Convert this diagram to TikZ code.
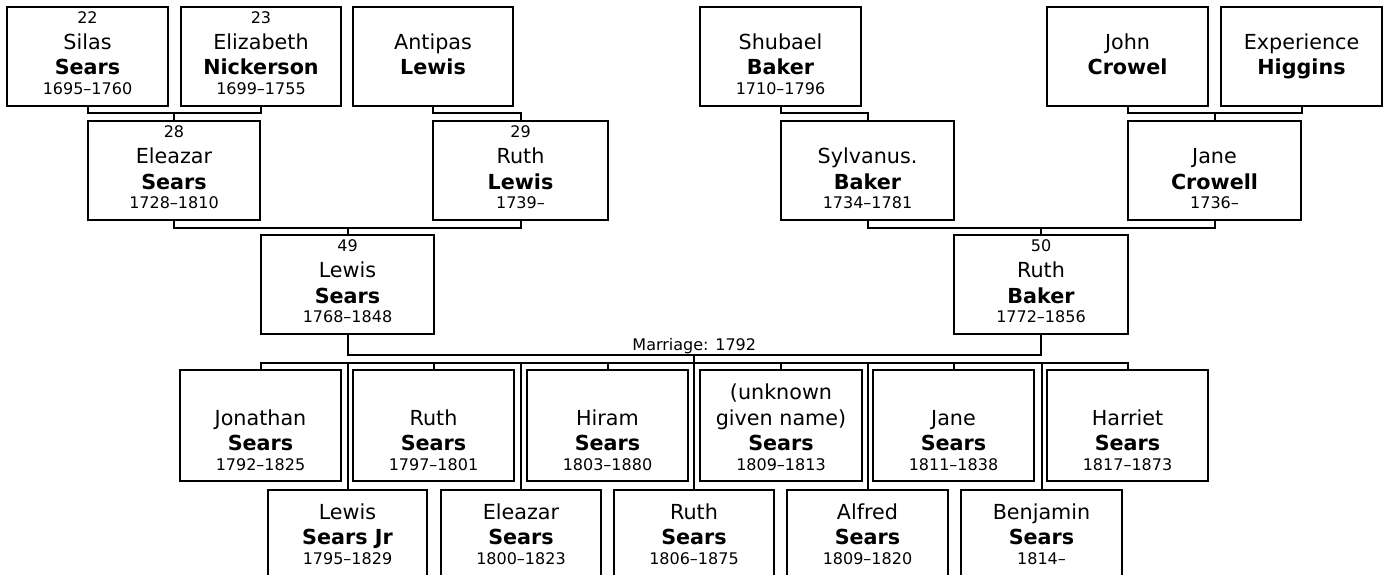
\documentclass[tikz,border=0pt]{standalone}
\usepackage{fontspec}
\setmainfont{DejaVu Sans}
\usetikzlibrary{calc}
\newcommand\smallf{\fontsize{16}{18}\selectfont}
\newcommand\namef{\fontsize{20.7}{24}\selectfont}
\tikzset{
  pbox/.style={draw, line width=2pt, inner sep=0pt, outer sep=0pt, fill=white},
  conn/.style={line width=2pt},
  numtxt/.style={anchor=base, inner sep=0pt, font=\smallf},
  giventxt/.style={anchor=base, inner sep=0pt, font=\namef},
  surtxt/.style={anchor=base, inner sep=0pt, font=\namef\bfseries},
  datetxt/.style={anchor=base, inner sep=0pt, font=\smallf},
}
\newcommand\goff{42.3}
% name, x1, x2, y1, y2, number, given, surname, dates
\newcommand\person[9]{%
  \node[pbox, minimum width={(#3-#2)*1pt}, minimum height={(#5-#4)*1pt}] (#1) at ({(#2+#3)/2},{(#4+#5)/2}) {};
  \node[numtxt]   (#1-n) at ($(#1.north)+(0,{\goff-26})$) {#6};
  \node[giventxt] (#1-g) at ($(#1.north)+(0,{\goff})$) {#7};
  \node[surtxt]   (#1-s) at ($(#1.north)+(0,{\goff+25.7})$) {#8};
  \node[datetxt]  (#1-d) at ($(#1.north)+(0,{\goff+45.5})$) {#9};
}
\begin{document}
\begin{tikzpicture}[x=1pt,y=-1pt]
\useasboundingbox (0,0) rectangle (1386,575);
\clip (0,0) rectangle (1386,575);
% generation 1
\renewcommand\goff{42.3}
\person{silas}{7}{168}{7}{106}{22}{Silas}{Sears}{1695–1760}
\person{eliz}{181}{341}{7}{106}{23}{Elizabeth}{Nickerson}{1699–1755}
\person{antipas}{353}{513}{7}{106}{}{Antipas}{Lewis}{}
\person{shubael}{700}{861}{7}{106}{}{Shubael}{Baker}{1710–1796}
\person{john}{1047}{1208}{7}{106}{}{John}{Crowel}{}
\person{experience}{1221}{1382}{7}{106}{}{Experience}{Higgins}{}
% generation 2
\person{eleazar}{88}{260}{121}{220}{28}{Eleazar}{Sears}{1728–1810}
\person{ruthl}{433}{608}{121}{220}{29}{Ruth}{Lewis}{1739–}
\person{sylv}{781}{954}{121}{220}{}{Sylvanus.}{Baker}{1734–1781}
\person{janec}{1128}{1301}{121}{220}{}{Jane}{Crowell}{1736–}
% generation 3
\person{lewis}{261}{434}{235}{334}{49}{Lewis}{Sears}{1768–1848}
\person{ruthb}{954}{1128}{235}{334}{50}{Ruth}{Baker}{1772–1856}
% children row 1
\renewcommand\goff{55}
\person{jonathan}{180}{341}{370}{481}{}{Jonathan}{Sears}{1792–1825}
\person{ruths}{353}{514}{370}{481}{}{Ruth}{Sears}{1797–1801}
\person{hiram}{527}{688}{370}{481}{}{Hiram}{Sears}{1803–1880}
\person{unknown}{700}{862}{370}{481}{}{given name)}{Sears}{1809–1813}
\node[giventxt] (unknown-g0) at ($(unknown.north)+(0,29.5)$) {(unknown};
\person{janes}{873}{1034}{370}{481}{}{Jane}{Sears}{1811–1838}
\person{harriet}{1047}{1208}{370}{481}{}{Harriet}{Sears}{1817–1873}
% children row 2
\renewcommand\goff{29}
\person{ljr}{268}{427}{490}{601}{}{Lewis}{Sears Jr}{1795–1829}
\person{eleazars}{441}{601}{490}{601}{}{Eleazar}{Sears}{1800–1823}
\person{ruthss}{614}{774}{490}{601}{}{Ruth}{Sears}{1806–1875}
\person{alfred}{787}{948}{490}{601}{}{Alfred}{Sears}{1809–1820}
\person{benjamin}{961}{1122}{490}{601}{}{Benjamin}{Sears}{1814–}
% connectors generation 1 -> 2
\draw[conn] (silas.south) -- ++(0,6.7) -| (eliz.south);
\draw[conn] (eleazar.north) -- ++(0,-8.3);
\draw[conn] (antipas.south -| ruthl.west) -- ++(0,6.7) -| (ruthl.north);
\draw[conn] (shubael.south -| sylv.west) -- ++(0,6.7) -| (sylv.north);
\draw[conn] (john.south) -- ++(0,6.7) -| (experience.south);
\draw[conn] (janec.north) -- ++(0,-8.3);
% generation 2 -> 3
\draw[conn] (eleazar.south) -- ++(0,7.5) -| (ruthl.south);
\draw[conn] (lewis.north) -- ++(0,-7.5);
\draw[conn] (sylv.south) -- ++(0,7.5) -| (janec.south);
\draw[conn] (ruthb.north) -- ++(0,-7.5);
% marriage
\draw[conn] (lewis.south) -- ++(0,21) coordinate (mleft) -| (ruthb.south);
\node[numtxt] (mlabel) at ($(mleft)!0.5!(mleft -| ruthb.south)+(0,-4.3)$) {Marriage: 1792};
% children bar
\coordinate (bar) at (0,363.3);
\draw[conn] (jonathan.north) -- (jonathan.north |- bar) -- (harriet.north |- bar) -- (harriet.north);
\draw[conn] (ruths.north) -- (ruths.north |- bar);
\draw[conn] (hiram.north) -- (hiram.north |- bar);
\draw[conn] (unknown.north) -- (unknown.north |- bar);
\draw[conn] (janes.north) -- (janes.north |- bar);
\draw[conn] (ljr.north) -- (ljr.north |- bar);
\draw[conn] (eleazars.north) -- (eleazars.north |- bar);
\draw[conn] (ruthss.north) -- (ruthss.north |- mleft);
\draw[conn] (alfred.north) -- (alfred.north |- bar);
\draw[conn] (benjamin.north) -- (benjamin.north |- bar);
\end{tikzpicture}
\end{document}
